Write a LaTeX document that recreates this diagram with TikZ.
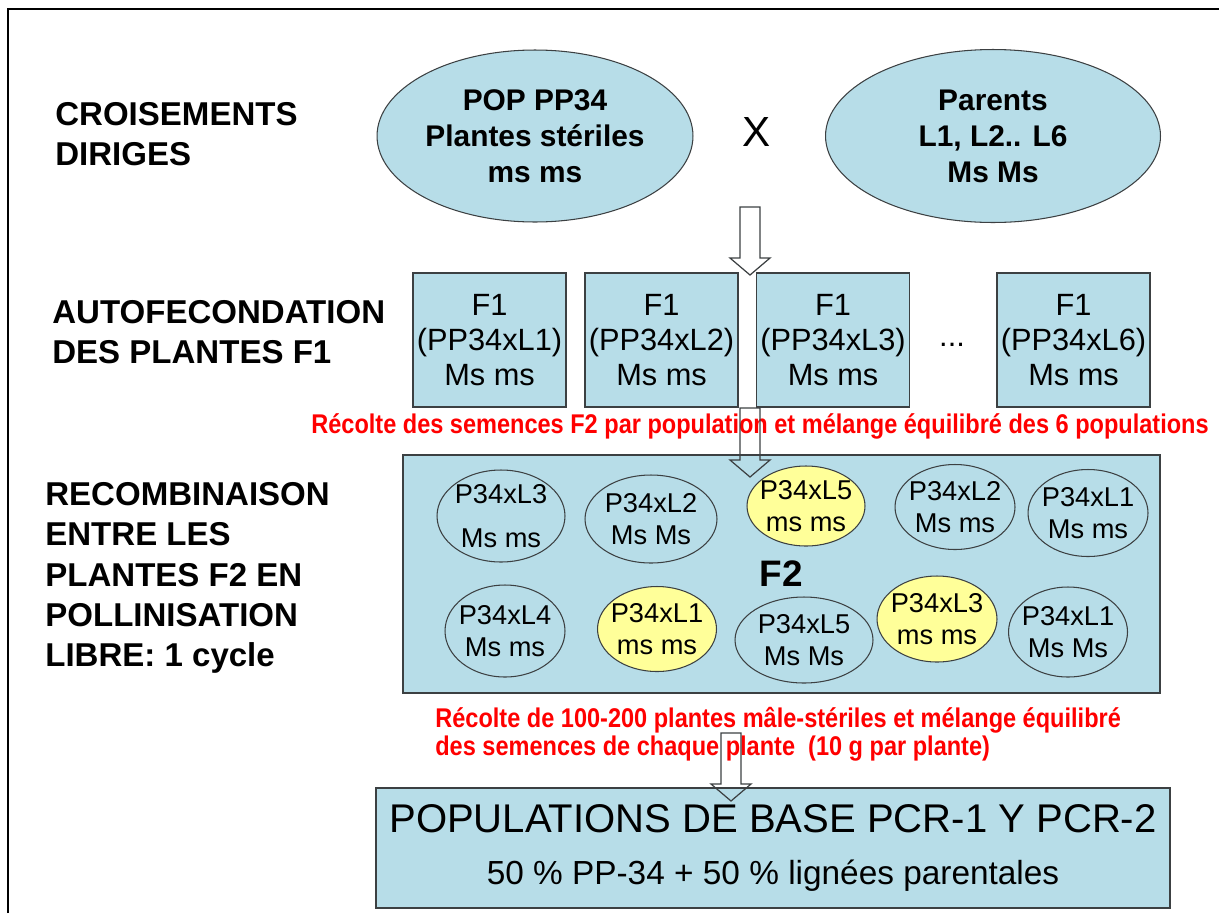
\documentclass[tikz,border=0pt]{standalone}
\usepackage{fontspec}
\setmainfont{Liberation Sans}
\newfontfamily\narrowsans[FakeStretch=0.87]{Liberation Sans}
\usetikzlibrary{positioning, shapes.geometric, calc}
\definecolor{boxblue}{RGB}{183,221,232}
\definecolor{paleyellow}{RGB}{255,255,153}
\definecolor{edgegray}{RGB}{60,64,66}
\newcommand\fsz[2]{\fontsize{#1}{#2}\selectfont}
\newcommand\hollowarrow[2]{\draw[hollow] ($(#1)+(-10,0)$) -- ($(#2)+(-10,-17)$) -- ($(#2)+(-20,-17)$) -- (#2) -- ($(#2)+(20,-17)$) -- ($(#2)+(10,-17)$) -- ($(#1)+(10,0)$) -- cycle;}

\begin{document}
\begin{tikzpicture}[x=0.02cm, y=-0.02cm,
    parent/.style = {draw=edgegray, line width=0.6pt, fill=boxblue, ellipse, inner sep=0pt, align=center, font=\fsz{17}{20.5}\bfseries},
    fone/.style = {draw=edgegray, line width=0.9pt, fill=boxblue, minimum width=3.06cm, minimum height=2.68cm, inner sep=0pt, align=center, font=\fsz{17.5}{20}},
    plant/.style = {draw=edgegray, line width=0.6pt, fill=boxblue, ellipse, inner xsep=-0.3cm, inner ysep=-0.1cm, align=center, font=\fsz{15.5}{18.5}},
    sterile/.style = {plant, fill=paleyellow},
    stage/.style = {anchor=west, align=left, inner sep=0pt, font=\fsz{18.8}{23}\bfseries},
    note/.style = {text=red, inner sep=0pt, font=\narrowsans\fsz{15.4}{16}\bfseries},
    hollow/.style = {draw=edgegray, line width=0.7pt}]
    \useasboundingbox (0,0) rectangle (1219,913);
    \draw[line width=0.6pt] (8,913) -- (8,9) -- (1219,9);

    % stages
    \node[stage] (cross) at (55,134) {CROISEMENTS\\DIRIGES};
    \node[stage] (selfing) at (52,332) {AUTOFECONDATION\\DES PLANTES F1};
    \node[stage] (recomb) at (45,578) {RECOMBINAISON\\ENTRE LES\\PLANTES F2 EN\\POLLINISATION\\LIBRE: 1 cycle};

    % parents
    \node[parent, minimum width=6.32cm, minimum height=3.44cm] (pop) at (535,136) {POP PP34\\Plantes stériles\\ms ms};
    \node[parent, minimum width=6.7cm, minimum height=3.46cm] (lines) at (993,136) {Parents\\L1, L2.. L6\\Ms Ms};
    \node[font=\fsz{24}{24}] (times) at (757,132) {X};

    % F1
    \node[fone] (f1a) at (489.5,340) {F1\\(PP34xL1)\\Ms ms};
    \node[fone] (f1b) at (661.5,340) {F1\\(PP34xL2)\\Ms ms};
    \node[fone] (f1c) at (833,340) {F1\\(PP34xL3)\\Ms ms};
    \node[font=\fsz{17.5}{20}] (dots) at (952,345) {...};
    \node[fone] (f1f) at (1073.5,340) {F1\\(PP34xL6)\\Ms ms};

    \node[note] (harvest1) at (760,426) {Récolte des semences F2 par population et mélange équilibré des 6 populations};

    % F2
    \node[draw=edgegray, line width=0.9pt, fill=boxblue, minimum width=15.14cm, minimum height=4.76cm, font=\fsz{21}{22}\bfseries] (pool) at (781.5,574) {F2};
    \node[plant, minimum width=2.56cm, minimum height=1.84cm] (p1) at (501,516) {P34xL3\\[6.5pt]Ms ms};
    \node[plant, minimum width=2.64cm, minimum height=1.76cm] (p2) at (651,519) {P34xL2\\Ms Ms};
    \node[sterile, minimum width=2.36cm, minimum height=1.6cm] (p3) at (806,506) {P34xL5\\ms ms};
    \node[plant, minimum width=2.4cm, minimum height=1.7cm] (p4) at (955,507) {P34xL2\\Ms ms};
    \node[plant, minimum width=2.4cm, minimum height=1.74cm] (p5) at (1088,513) {P34xL1\\Ms ms};
    \node[plant, minimum width=2.4cm, minimum height=1.84cm] (p6) at (505,631) {P34xL4\\Ms ms};
    \node[sterile, minimum width=2.38cm, minimum height=1.7cm] (p7) at (657,629) {P34xL1\\ms ms};
    \node[plant, minimum width=2.76cm, minimum height=1.72cm] (p8) at (804,640) {P34xL5\\Ms Ms};
    \node[sterile, minimum width=2.4cm, minimum height=1.72cm] (p9) at (937,619) {P34xL3\\ms ms};
    \node[plant, minimum width=2.38cm, minimum height=1.8cm] (p10) at (1068,632) {P34xL1\\Ms Ms};

    \node[note, anchor=west, align=left] (harvest2) at (435,734) {Récolte de 100-200 plantes mâle-stériles et mélange équilibré\\des semences de chaque plante\ \ (10 g par plante)};

    % base populations
    \node[draw=edgegray, line width=0.9pt, fill=boxblue, minimum width=15.88cm, minimum height=2.4cm, align=center, font=\fsz{19}{29.6}] (base) at (773,848) {{\fsz{22.8}{27}POPULATIONS DE BASE PCR-1 Y PCR-2}\\50 \% PP-34 + 50 \% lignées parentales};

    % arrows
    \coordinate (a1) at (750,207);
    \coordinate (a1tip) at (750,275);
    \coordinate (a2) at (750,408);
    \coordinate (a2tip) at (750,477);
    \coordinate (a3) at (731,733);
    \coordinate (a3tip) at (731,801);
    \hollowarrow{a1}{a1tip}
    \hollowarrow{a2}{a2tip}
    \hollowarrow{a3}{a3tip}
\end{tikzpicture}
\end{document}
